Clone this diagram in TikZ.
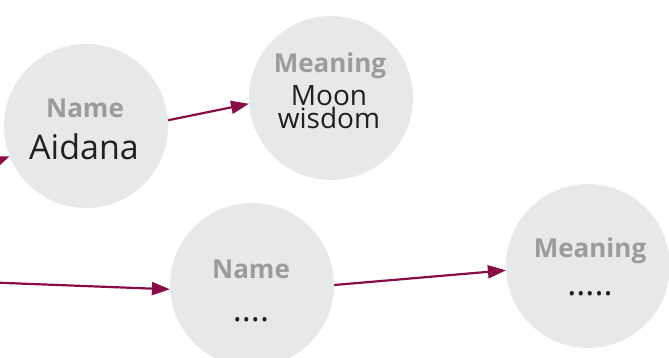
\documentclass[tikz,border=0pt]{standalone}
\usepackage{fontspec}
\usetikzlibrary{arrows.meta}
\newfontfamily\bubblefont{Open Sans}
\definecolor{bubblegray}{HTML}{E7E8EA}
\definecolor{keygray}{HTML}{9B9B9B}
\definecolor{valblack}{HTML}{231F20}
\definecolor{linkred}{HTML}{8A0C47}
\begin{document}
\begin{tikzpicture}[x=1pt, y=-1pt]

  \tikzset{bubble/.style={circle, fill=bubblegray, minimum size=164pt, inner sep=0pt},
           key/.style={anchor=base, text=keygray, font=\bubblefont\bfseries\fontsize{26}{26}\selectfont},
           val/.style={anchor=base, text=valblack, font=\bubblefont\fontsize{34}{34}\selectfont},
           link/.style={draw=linkred, line width=2.2pt, -{Triangle[length=18pt, width=13pt]}}}

  \useasboundingbox (0,0) rectangle (669,357);

  % the four bubbles
  \foreach \n/\x/\y in {name1/86/126, mean1/331/98, name2/252/285, mean2/588/266}
    \node[bubble] (\n) at (\x,\y) {};

  % texts
  \node[key] (key1) at (85,117) {Name};
  \node[val] (val1) at (84,159) {Aidana};
  \node[key] (key2) at (330,72) {Meaning};
  \node[val, align=center, font=\bubblefont\fontsize{28}{21}\selectfont] (val2) at (329,128) {Moon\\wisdom};
  \node[key] (key3) at (251,278) {Name};
  \node[val] (val3) at (251,321) {....};
  \node[key] (key4) at (590,257) {Meaning};
  \node[val] (val4) at (590,295) {.....};

  % links
  \coordinate (in1) at (-40,176);
  \coordinate (in2) at (-20,282);
  \draw[link] (in1) -- (name1);
  \draw[link] (name1.4) -- (mean1.184);
  \draw[link] (in2) -- (name2.183);
  \draw[link] (name2.0) -- (mean2.183);

\end{tikzpicture}
\end{document}
